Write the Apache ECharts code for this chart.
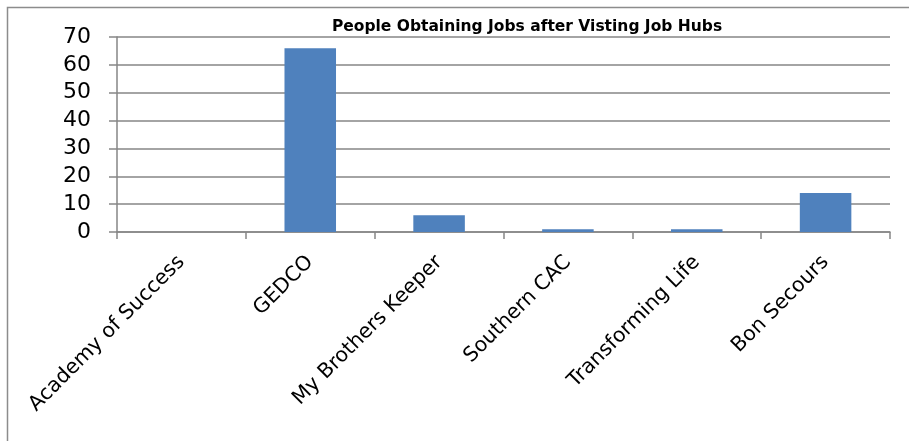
<!DOCTYPE html>
<html><head><meta charset="utf-8">
<script src="https://cdn.jsdelivr.net/npm/echarts@6/dist/echarts.min.js"></script>
<style>html,body{margin:0;padding:0;background:#fff}#c{width:909px;height:441px}</style>
</head><body><div id="c"></div>
<script>
const title = "People Obtaining Jobs after Visting Job Hubs";
const categories = ["Academy of Success","GEDCO","My Brothers Keeper","Southern CAC","Transforming Life","Bon Secours"];
const jobs = [0, 66, 6, 1, 1, 14];
const yTicks = [0, 70, 10];

const chart = echarts.init(document.getElementById('c'), null, {renderer:'canvas'});
const FONT = '"DejaVu Sans", sans-serif';
chart.setOption({
  animation:false,
  backgroundColor:'#ffffff',
  title:{text:title,left:522,textAlign:'center',top:14,
    textStyle:{fontFamily:FONT,fontWeight:'bold',fontSize:15.5,color:'#000'}},
  graphic:[{type:'rect',shape:{x:7.5,y:7.5,width:1000,height:1000},
    style:{fill:'none',stroke:'#8c8c8c',lineWidth:1.5},silent:true,z:-1}],
  grid:{left:117,right:19,top:37,bottom:209,containLabel:false},
  xAxis:{type:'category',data:categories,
    axisLine:{lineStyle:{color:'#868686',width:1.5}},
    axisTick:{show:true,length:7,lineStyle:{color:'#868686',width:1.5},alignWithLabel:false},
    axisLabel:{rotate:45,fontFamily:FONT,fontSize:20.5,color:'#000',margin:27,interval:0}},
  yAxis:{type:'value',min:yTicks[0],max:yTicks[1],interval:yTicks[2],
    axisLine:{show:true,lineStyle:{color:'#868686',width:1.5}},
    axisTick:{show:true,length:8,lineStyle:{color:'#868686',width:1.5}},
    splitLine:{lineStyle:{color:'#868686',width:1.5}},
    axisLabel:{fontFamily:FONT,fontSize:22,color:'#000',margin:26}},
  series:[{type:'bar',data:jobs,barWidth:'40%',
    itemStyle:{color:'#4F81BD'}}]
});
</script></body></html>
